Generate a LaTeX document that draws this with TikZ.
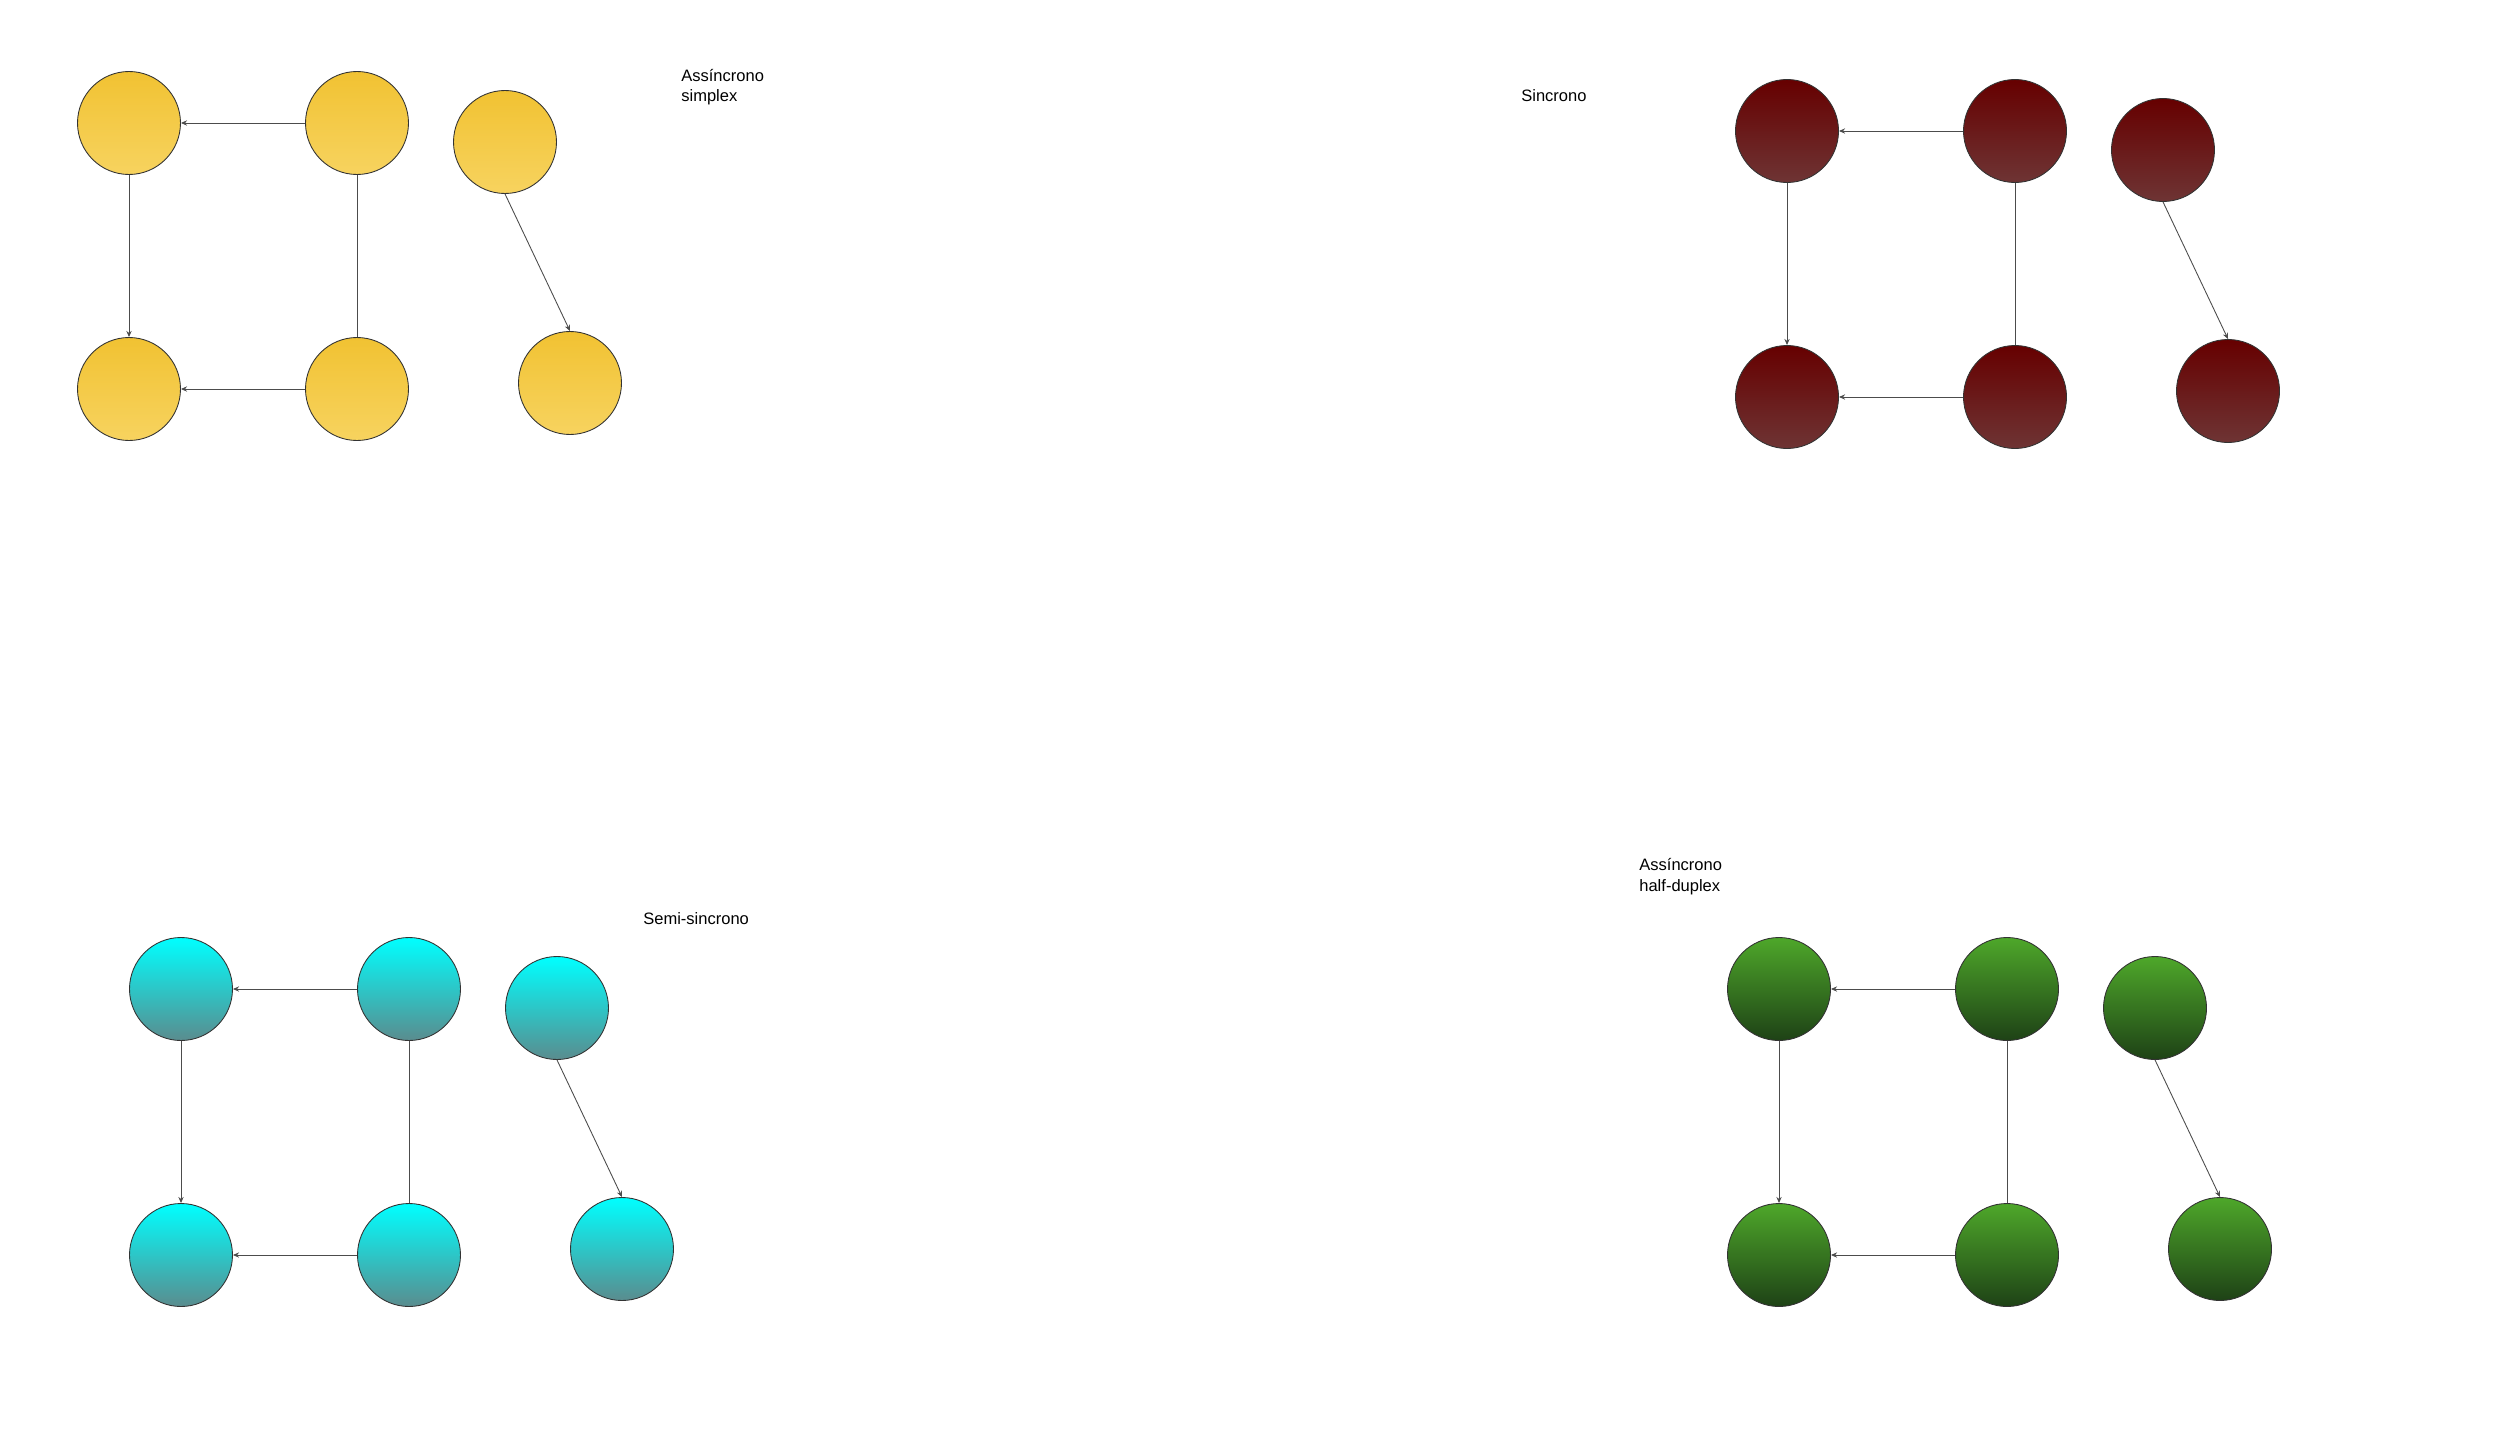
\documentclass[tikz,border=0pt]{standalone}
\usepackage{fontspec}
\setmainfont{Liberation Sans}
\usetikzlibrary{arrows.meta}
\definecolor{amareloTopo}{HTML}{F1C232}
\definecolor{amareloBase}{HTML}{F7D35F}
\definecolor{vinhoTopo}{HTML}{660000}
\definecolor{vinhoBase}{HTML}{6E3434}
\definecolor{cianoTopo}{HTML}{00FFFF}
\definecolor{cianoBase}{HTML}{5A8C8E}
\definecolor{verdeTopo}{HTML}{4EA72A}
\definecolor{verdeBase}{HTML}{1E4216}
\begin{document}
\begin{tikzpicture}[x=0.02cm,y=-0.02cm]
\useasboundingbox (0,0) rectangle (2500,1436);
\tikzset{
  bola/.style={circle,draw=black!80,line width=0.5pt,minimum size=2.06cm,inner sep=0pt},
  liga/.style={draw=black!70,line width=0.5pt},
  seta/.style={liga,-{Stealth[length=3.5pt,width=3pt]}},
  rotulo/.style={font=\fontsize{9.4}{11.4}\selectfont,align=left,anchor=base west,inner sep=0pt}
}
% quatro grupos de nós
\foreach \g/\x/\y/\cor in {am/129/123/amarelo, vi/1787/131/vinho, ci/181/989/ciano, ve/1779/989/verde}{
  \begin{scope}[shift={(\x,\y)},every node/.append style={bola,top color=\cor Topo,bottom color=\cor Base}]
    \node (\g a) at (0,0) {};
    \node (\g b) at (228,0) {};
    \node (\g c) at (376,19) {};
    \node (\g d) at (0,266) {};
    \node (\g e) at (228,266) {};
    \node (\g f) at (441,260) {};
  \end{scope}
  % ligações
  \draw[seta] (\g b) -- (\g a);
  \draw[seta] (\g a) -- (\g d);
  \draw[liga] (\g b) -- (\g e);
  \draw[seta] (\g e) -- (\g d);
  \draw[seta] (\g c.south) -- (\g f.north);
}
% rótulos
\node[rotulo] (simplex) at (681,102) {Assíncrono\\simplex};
\node[rotulo] (sincrono) at (1521,102) {Sincrono};
\node[rotulo] (semi) at (643,924) {Semi-sincrono};
\node[rotulo] (half) at (1639,891) {Assíncrono\\half-duplex};
\end{tikzpicture}
\end{document}
